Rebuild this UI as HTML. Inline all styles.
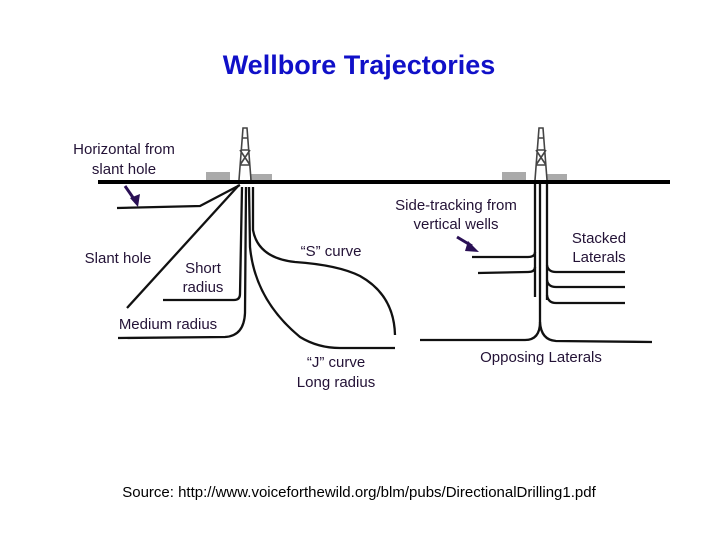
<!DOCTYPE html>
<html><head><meta charset="utf-8"><style>
body{margin:0;background:#fff;}
svg{display:block}
text{font-family:"Liberation Sans",Arial,sans-serif;}
.l{font-size:15px;fill:#231236;}
</style></head><body>
<svg width="720" height="540" viewBox="0 0 720 540" font-family="Liberation Sans, Arial, sans-serif">
<text x="359" y="74" text-anchor="middle" font-size="27" font-weight="bold" fill="#1010c8" font-family="Liberation Sans, Arial, sans-serif">Wellbore Trajectories</text>

<!-- derricks -->
<g>
<rect x="206" y="172" width="24" height="9" fill="#aaa"/>
<rect x="250" y="174" width="22" height="7" fill="#aaa"/>
<path d="M239 180 L243 128 L247 128 L251 180 M241 150 L249 150 M240 165 L250 165 M240 150 L250 165 M250 150 L240 165 M242 138 L248 138" fill="none" stroke="#444" stroke-width="1.6"/>
<rect x="502" y="172" width="24" height="9" fill="#aaa"/>
<rect x="547" y="174" width="20" height="7" fill="#aaa"/>
<path d="M535 180 L539 128 L543 128 L547 180 M537 150 L545 150 M536 165 L546 165 M536 150 L546 165 M546 150 L536 165 M538 138 L544 138" fill="none" stroke="#444" stroke-width="1.6"/>
</g>

<line x1="98" y1="182" x2="670" y2="182" stroke="#000" stroke-width="4"/>

<g fill="none" stroke="#111" stroke-width="2.3">
<path d="M240 185 L200 206 L117 208"/>
<path d="M239 185 L127 308"/>
<path d="M242 187 L240 294 Q240 300 234 300 L163 300"/>
<path d="M246 187 L245 313 Q244 336 225 337 L118 338"/>
<path d="M249 187 L250 247 Q255 300 300 337 Q318 348 340 348 L395 348"/>
<path d="M253 187 L253 230 Q258 258 295 262 Q338 265 360 276 Q394 295 395 335"/>
<path d="M540 184 L540 322 Q540 340 525 340 L420 340"/>
<path d="M540 322 Q541 340 556 341 L652 342"/>
<path d="M535 184 L535 297"/>
<path d="M535 252 Q535 257 528 257 L472 257"/>
<path d="M535 267 Q535 272 528 272 L478 273"/>
<path d="M547 184 L547 300"/>
<path d="M547 265 Q548 272 556 272 L625 272"/>
<path d="M547 280 Q548 287 556 287 L625 287"/>
<path d="M547 295 Q548 303 556 303 L625 303"/>
</g>
<g stroke="#2a1055" stroke-width="3" fill="#2a1055">
<line x1="125" y1="186" x2="134" y2="199"/>
<polygon points="130,198 140,194 138,207" stroke="none"/>
<line x1="457" y1="237" x2="472" y2="246"/>
<polygon points="468,241 479,252 465,251" stroke="none"/>
</g>

<g font-family="Liberation Sans, Arial, sans-serif" font-size="15" fill="#231236" text-anchor="middle">
<text x="124" y="154">Horizontal from</text>
<text x="124" y="174">slant hole</text>
<text x="118" y="263">Slant hole</text>
<text x="203" y="273">Short</text>
<text x="203" y="292">radius</text>
<text x="168" y="329">Medium radius</text>
<text x="331" y="256">“S” curve</text>
<text x="336" y="367">“J” curve</text>
<text x="336" y="387">Long radius</text>
<text x="456" y="210">Side-tracking from</text>
<text x="456" y="229">vertical wells</text>
<text x="599" y="243">Stacked</text>
<text x="599" y="262">Laterals</text>
<text x="541" y="362">Opposing Laterals</text>
<text x="359" y="497" fill="#000">Source: http://www.voiceforthewild.org/blm/pubs/DirectionalDrilling1.pdf</text>
</g>
</svg>
</body></html>
